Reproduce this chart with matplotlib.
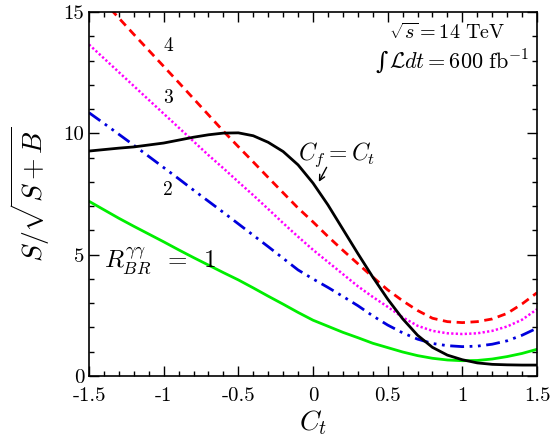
import matplotlib
matplotlib.use("Agg")
import matplotlib.pyplot as plt
from matplotlib.ticker import MultipleLocator, FixedLocator, FixedFormatter

plt.rcParams['mathtext.fontset'] = 'cm'
plt.rcParams['font.family'] = ['cmr10', 'DejaVu Serif']
plt.rcParams['axes.unicode_minus'] = False
plt.rcParams['axes.formatter.use_mathtext'] = True

ct = [-1.5, -1.4, -1.3, -1.2, -1.1, -1.0, -0.9, -0.8, -0.7, -0.6, -0.5, -0.4, -0.3, -0.2, -0.1,
      0.0, 0.1, 0.2, 0.3, 0.4, 0.5, 0.6, 0.7, 0.8, 0.9, 1.0, 1.1, 1.2, 1.3, 1.4, 1.5]

r_br1 = [7.2, 6.85, 6.5, 6.17, 5.85, 5.53, 5.2, 4.88, 4.57, 4.26, 3.96, 3.63, 3.29, 2.96, 2.62,
         2.3, 2.05, 1.8, 1.58, 1.35, 1.17, 0.99, 0.84, 0.73, 0.66, 0.63, 0.64, 0.7, 0.8, 0.93, 1.1]
r_br2 = [10.85, 10.41, 9.96, 9.51, 9.05, 8.59, 8.13, 7.66, 7.2, 6.74, 6.27, 5.8, 5.33, 4.85, 4.37,
         4.0, 3.65, 3.28, 2.9, 2.48, 2.1, 1.78, 1.52, 1.34, 1.25, 1.21, 1.23, 1.31, 1.45, 1.68, 1.97]
r_br3 = [13.66, 13.09, 12.52, 11.95, 11.38, 10.81, 10.24, 9.67, 9.1, 8.56, 8.0, 7.45, 6.88, 6.3, 5.74,
         5.2, 4.7, 4.2, 3.7, 3.26, 2.85, 2.42, 2.07, 1.86, 1.76, 1.73, 1.76, 1.86, 2.04, 2.32, 2.75]
r_br4 = [16.1, 15.42, 14.75, 14.08, 13.42, 12.76, 12.1, 11.43, 10.76, 10.09, 9.45, 8.82, 8.18, 7.55, 6.92,
         6.35, 5.75, 5.18, 4.63, 4.08, 3.55, 3.1, 2.7, 2.38, 2.24, 2.2, 2.24, 2.35, 2.58, 2.97, 3.43]
cf_eq_ct = [9.27, 9.33, 9.39, 9.44, 9.52, 9.6, 9.72, 9.84, 9.94, 10.01, 10.02, 9.9, 9.63, 9.25, 8.7,
            7.95, 7.05, 6.05, 5.05, 4.08, 3.17, 2.36, 1.68, 1.18, 0.86, 0.67, 0.54, 0.48, 0.46, 0.45, 0.45]

xticks = [-1.5, -1.0, -0.5, 0.0, 0.5, 1.0, 1.5]
xticklabels = ['-1.5', '-1', '-0.5', '0', '0.5', '1', '1.5']
yticks = [0, 5, 10, 15]
yticklabels = ['0', '5', '10', '15']

fig = plt.figure(figsize=(5.56, 4.43), dpi=100)
ax = fig.add_axes([89/556, 67/443, (537-89)/556, (376-12)/443])

ax.plot(ct, r_br1, color='#00ee00', lw=2.0, ls='-')
ax.plot(ct, r_br2, color='#0000dd', lw=2.0, ls=(0, (5, 2, 1, 2, 1, 2)))
ax.plot(ct, r_br3, color='#ff00ff', lw=1.8, ls=(0, (0.9, 0.9)))
ax.plot(ct, r_br4, color='#ff0000', lw=2.0, ls=(0, (3, 2)))
ax.plot(ct, cf_eq_ct, color='black', lw=2.0, ls='-', solid_joinstyle='round')

ax.set_xlim(-1.5, 1.5)
ax.set_ylim(0, 15)
ax.xaxis.set_major_locator(FixedLocator(xticks))
ax.xaxis.set_major_formatter(FixedFormatter(xticklabels))
ax.yaxis.set_major_locator(FixedLocator(yticks))
ax.yaxis.set_major_formatter(FixedFormatter(yticklabels))
ax.xaxis.set_minor_locator(MultipleLocator(0.1))
ax.yaxis.set_minor_locator(MultipleLocator(1))
ax.tick_params(which='both', direction='in', top=True, right=True, labelsize=15)
ax.tick_params(which='major', length=7, width=1)
ax.tick_params(which='minor', length=3.5, width=1)
ax.tick_params(axis='x', pad=8)
for s in ax.spines.values():
    s.set_linewidth(1.2)

ax.set_xlabel(r'$C_t$', fontsize=20, labelpad=2)
ax.set_ylabel(r'$S/\sqrt{S+B}$', fontsize=20, labelpad=8)

ax.text(-0.97, 13.6, '4', fontsize=14, ha='center', va='center')
ax.text(-0.97, 11.45, '3', fontsize=14, ha='center', va='center')
ax.text(-0.97, 7.66, '2', fontsize=14, ha='center', va='center')
ax.text(-1.40, 4.7, r'$R_{BR}^{\gamma\gamma}\;\;=\;\;1$', fontsize=18, ha='left', va='center')
ax.text(-0.10, 9.1, r'$C_f = C_t$', fontsize=17, ha='left', va='center')
ax.annotate('', xy=(0.03, 7.9), xytext=(0.1, 8.7),
            arrowprops=dict(arrowstyle='->', color='black', lw=1.0))
ax.text(1.29, 14.15, r'$\sqrt{s} = 14\ \mathrm{TeV}$', fontsize=14.5, ha='right', va='center')
line2 = ax.text(1.45, 12.94, r'$\mathcal{L}dt = 600\ \mathrm{fb}^{-1}$', fontsize=16,
                ha='right', va='center')
fig.canvas.draw()
bb = line2.get_window_extent(renderer=fig.canvas.get_renderer())
x_left = ax.transData.inverted().transform((bb.x0, bb.y0))[0]
ax.text(x_left - 0.01, 12.94, '\u222b', fontsize=17, ha='right', va='center', family='DejaVu Serif')

fig.savefig('out.png', dpi=100)
